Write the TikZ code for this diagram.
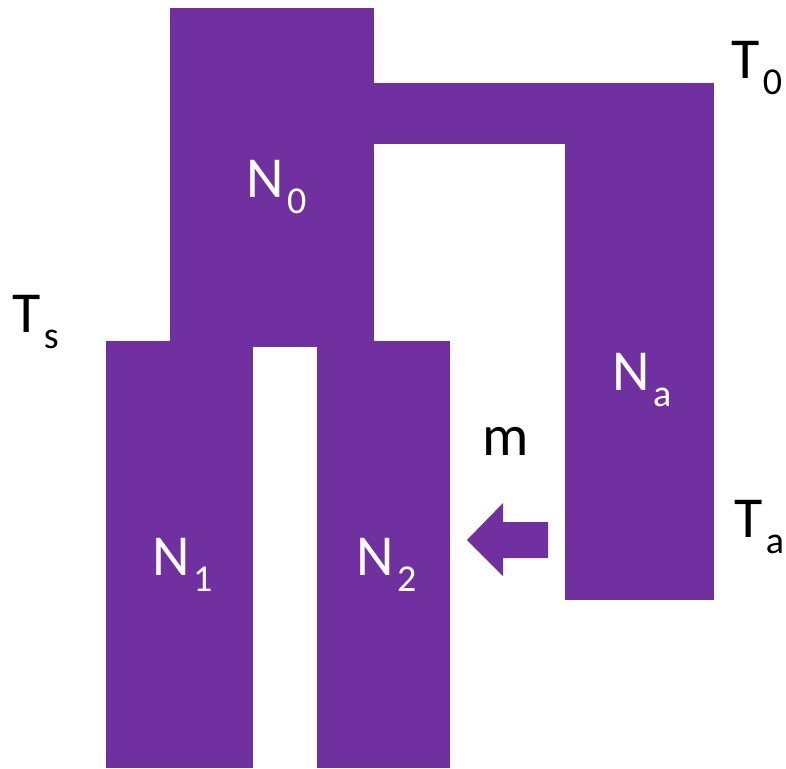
\documentclass[tikz,border=0pt]{standalone}
\usepackage{fontspec}
\setmainfont{Carlito}
\usepackage{tikz}
\usetikzlibrary{positioning}
\definecolor{popviolet}{HTML}{7030A0}
\newcommand{\poplbl}[2]{#1\kern0.06em\raisebox{-0.28em}{\fontsize{38}{40}\selectfont #2}}
\tikzset{
    pop block/.style={fill=popviolet, draw=none},
    pop name/.style={anchor=base west, inner sep=0pt, text=white, font=\fontsize{58}{60}\selectfont},
    pop time/.style={anchor=base west, inner sep=0pt, text=black, font=\fontsize{58}{60}\selectfont}
}
\begin{document}
\begin{tikzpicture}[x=1pt, y=-1pt]
\useasboundingbox (0,0) rectangle (786,768);
% Ancestral population and ghost branch
\fill[pop block] (170,8) rectangle (374,347);
\fill[pop block] (374,83) rectangle (714,144);
\fill[pop block] (565,83) rectangle (714,600);
% Daughter populations
\fill[pop block] (106,341) rectangle (253,768);
\fill[pop block] (317,341) rectangle (450,768);
% Migration arrow
\fill[pop block] (548,522) -- (503,522) -- (503,503) -- (467,540)
    -- (503,576) -- (503,558) -- (548,558) -- cycle;

% Population sizes
\node[pop name] (n0) at (246,197) {\poplbl{N}{0}};
\node[pop name] (n1) at (152,575) {\poplbl{N}{1}};
\node[pop name] (n2) at (356,575) {\poplbl{N}{2}};
\node[pop name] (na) at (612,390) {\poplbl{N}{a}};
% Times and migration rate
\node[pop time] (t0) at (731,78) {\poplbl{T}{0}};
\node[pop time] (ts) at (12,332) {\poplbl{T}{s}};
\node[pop time] (ta) at (734,537) {\poplbl{T}{a}};
\node[pop time] (m) at (482,455) {m};
\end{tikzpicture}
\end{document}
